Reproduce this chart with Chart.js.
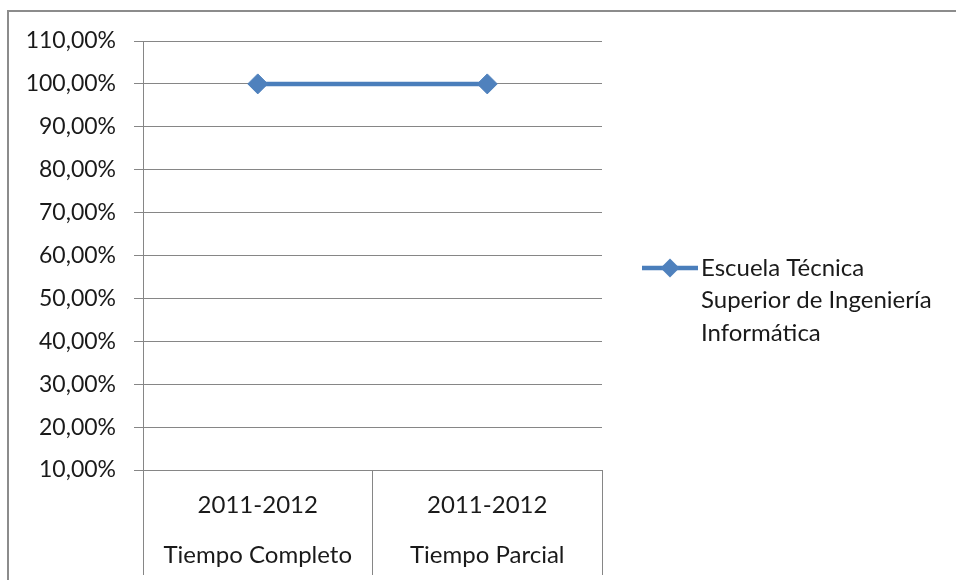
<!DOCTYPE html>
<html>
<head>
<meta charset="utf-8">
<script src="https://cdn.jsdelivr.net/npm/chart.js@4/dist/chart.umd.min.js"></script>
<style>
  html, body { margin: 0; padding: 0; background: #fff; }
  #wrap { position: relative; width: 956px; height: 580px; overflow: hidden; }
  #frame { position: absolute; left: 7px; top: 10px; width: 1000px; height: 600px;
           border-left: 2px solid #8c8c8c; border-top: 2px solid #8c8c8c; pointer-events: none; }
  canvas { position: absolute; left: 0; top: 0; }
</style>
</head>
<body>
<div id="wrap">
  <canvas id="c" width="956" height="580"></canvas>
  <div id="frame"></div>
</div>
<script>
// ---- data ----
const periods = ['2011-2012', '2011-2012'];
const regimes = ['Tiempo Completo', 'Tiempo Parcial'];
const seriesName = ['Escuela Técnica', 'Superior de Ingeniería', 'Informática'];
const seriesValues = [100, 100];
const yMin = 10, yMax = 110, yStep = 10;

const FONT = 'Lato, "Open Sans", sans-serif';
const BLUE_LINE = '#4A7EBB';
const BLUE_FILL = '#4F81BD';
const GRID = '#868686';
const TEXT = '#1a1a1a';

const labels = periods.map((p, i) => [p, regimes[i]]);

const fmt = v => v.toFixed(2).replace('.', ',') + '%';

const legendPlugin = {
  id: 'sideLegend',
  afterDraw(chart) {
    const ctx = chart.ctx;
    const ds = chart.data.datasets[0];
    const x0 = chart.chartArea.right + 40;
    const y0 = 268;
    ctx.save();
    ctx.strokeStyle = ds.borderColor;
    ctx.lineWidth = ds.borderWidth;
    ctx.beginPath();
    ctx.moveTo(x0, y0);
    ctx.lineTo(x0 + 56, y0);
    ctx.stroke();
    ctx.fillStyle = ds.pointBackgroundColor;
    const r = 9.5, cx = x0 + 28;
    ctx.beginPath();
    ctx.moveTo(cx, y0 - r); ctx.lineTo(cx + r, y0); ctx.lineTo(cx, y0 + r); ctx.lineTo(cx - r, y0);
    ctx.closePath();
    ctx.fill();
    ctx.fillStyle = TEXT;
    ctx.font = '24px ' + FONT;
    ctx.textBaseline = 'middle';
    ctx.textAlign = 'left';
    seriesName.forEach((t, i) => ctx.fillText(t, x0 + 59, y0 + i * 32.5));
    ctx.restore();
  }
};

new Chart(document.getElementById('c'), {
  type: 'line',
  data: {
    labels: labels,
    datasets: [{
      label: seriesName.join(' '),
      data: seriesValues,
      borderColor: BLUE_LINE,
      backgroundColor: BLUE_FILL,
      pointBackgroundColor: BLUE_FILL,
      pointBorderColor: BLUE_FILL,
      borderWidth: 4.5,
      pointStyle: 'rectRot',
      pointRadius: 10,
      pointBorderWidth: 1,
      tension: 0
    }]
  },
  plugins: [legendPlugin],
  options: {
    responsive: false,
    animation: false,
    devicePixelRatio: 1,
    layout: { padding: { left: 0, top: 41, right: 354, bottom: 0 } },
    plugins: { legend: { display: false }, tooltip: { enabled: false } },
    scales: {
      x: {
        type: 'category',
        offset: true,
        afterFit(s) { s.height = 110; },
        border: { display: true, color: GRID, width: 1 },
        grid: { offset: true, drawOnChartArea: false, drawTicks: true, tickLength: 105, color: GRID, lineWidth: 1 },
        ticks: { color: TEXT, font: { family: FONT, size: 24, lineHeight: '50px' }, padding: -95, maxRotation: 0, autoSkip: false }
      },
      y: {
        min: yMin, max: yMax,
        afterFit(s) { s.width = 143; },
        border: { display: true, color: GRID, width: 1 },
        grid: { color: GRID, lineWidth: 1, tickLength: 9 },
        ticks: { stepSize: yStep, color: TEXT, font: { family: FONT, size: 23 }, padding: 18, callback: v => fmt(v) }
      }
    }
  }
});
</script>
</body>
</html>
